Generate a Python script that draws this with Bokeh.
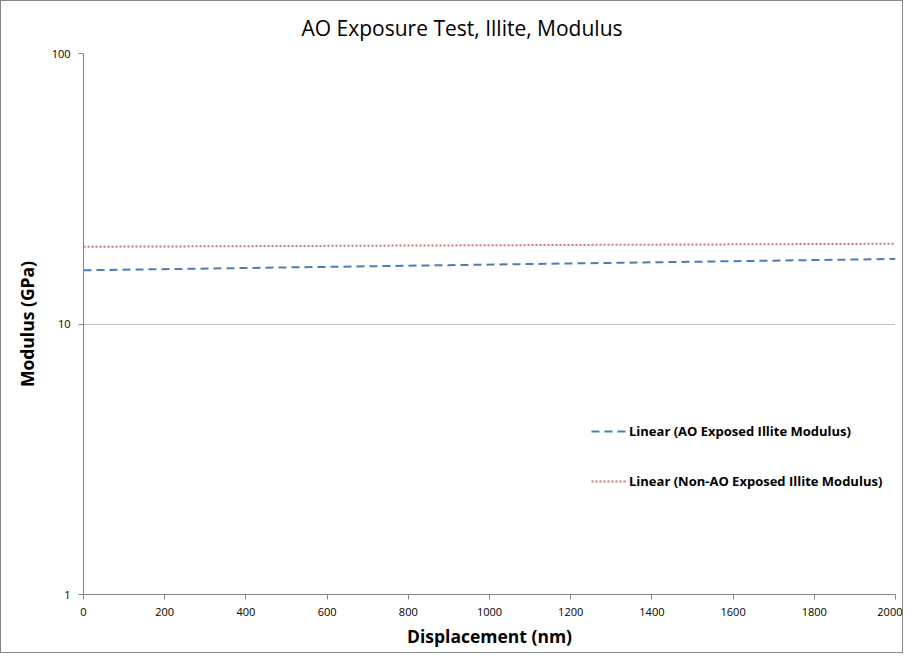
from bokeh.plotting import figure
from bokeh.models import Range1d, FixedTicker, NumeralTickFormatter, Legend, LegendItem
from bokeh.embed import file_html
from bokeh.resources import INLINE

# Data (linear trend lines)
x_vals = [0, 2000]
ao_exposed = [15.8, 17.4]
non_ao_exposed = [19.3, 19.8]
x_ticks = [0, 200, 400, 600, 800, 1000, 1200, 1400, 1600, 1800, 2000]
y_ticks = [1, 10, 100]

FONT = "Open Sans"

p = figure(width=903, height=653, y_axis_type="log", output_backend="svg",
           toolbar_location=None, x_range=Range1d(0, 2000), y_range=Range1d(1, 100),
           min_border_left=82, min_border_right=9, min_border_top=52, min_border_bottom=60)

p.title.text = "AO Exposure Test, Illite, Modulus"
p.title.align = "left"
p.title.offset = 218
p.title.text_font = FONT
p.title.text_font_size = "21px"
p.title.text_font_style = "normal"
p.title.text_color = "#000000"
p.title.standoff = 20
p.title.vertical_align = "top"

p.outline_line_color = None
p.background_fill_color = "white"
p.border_fill_color = "white"

# axes
for ax in (p.xaxis[0], p.yaxis[0]):
    ax.axis_line_color = "#868686"
    ax.major_tick_line_color = "#868686"
    ax.minor_tick_line_color = None
    ax.major_tick_out = 5
    ax.major_tick_in = 0
    ax.major_label_text_font = FONT
    ax.major_label_text_font_size = "11px"
    ax.major_label_text_color = "#000000"
    ax.axis_label_text_font = FONT
    ax.axis_label_text_font_style = "bold"
    ax.axis_label_text_font_size = "17.5px"
    ax.axis_label_text_color = "#000000"

p.xaxis.ticker = FixedTicker(ticks=x_ticks)
p.yaxis.ticker = FixedTicker(ticks=y_ticks, minor_ticks=[])
p.yaxis.formatter = NumeralTickFormatter(format="0")
p.xaxis.axis_label = "Displacement (nm)"
p.yaxis.axis_label = "Modulus (GPa)"
p.xaxis.major_label_standoff = 8
p.yaxis.major_label_standoff = 8
p.xaxis.axis_label_standoff = 5
p.yaxis.axis_label_standoff = 10

p.xgrid.grid_line_color = None
p.ygrid.ticker = FixedTicker(ticks=y_ticks)
p.ygrid.grid_line_color = "#868686"
p.ygrid.grid_line_dash = "1 1"
p.ygrid.grid_line_width = 1

r1 = p.line(x_vals, ao_exposed, line_color="#4a7ebb", line_width=2, line_dash="8 5")
r2 = p.line(x_vals, non_ao_exposed, line_color="#c0504d", line_width=2, line_dash="2 2", line_alpha=0.8)

legend = Legend(items=[LegendItem(label="Linear (AO Exposed Illite Modulus)", renderers=[r1]),
                       LegendItem(label="Linear (Non-AO Exposed Illite Modulus)", renderers=[r2])],
                location=(508, 103), padding=0, spacing=30, label_height=20, glyph_height=20,
                glyph_width=35, label_standoff=3, border_line_color=None,
                background_fill_alpha=0, label_text_font=FONT, label_text_font_size="13px",
                label_text_font_style="bold", label_text_color="#000000", margin=0)
p.add_layout(legend)

p.styles = {"border": "1px solid #868686"}

open("out.html", "w").write(file_html(p, INLINE))
